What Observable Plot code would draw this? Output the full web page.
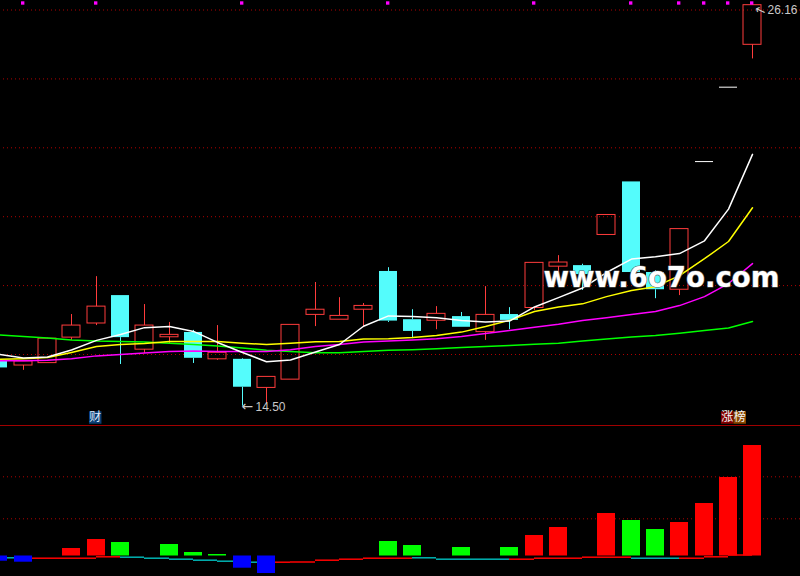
<!DOCTYPE html>
<html><head><meta charset="utf-8">
<script src="https://cdn.jsdelivr.net/npm/d3@7"></script>
<script src="https://cdn.jsdelivr.net/npm/@observablehq/plot@0.6"></script>
<style>
body{margin:0;background:#000;}
#sep{height:1px;background:#a00000;}
svg{display:block;}
</style>
</head><body>
<div id="top"></div><div id="sep"></div><div id="bot"></div>
<script>
// ---- price data (candles, index 0..31) ----
const open  = [15.80,15.68,15.75,16.49,16.90,17.71,16.14,16.50,16.64,15.86,15.86,15.03,15.27,17.15,17.01,17.30,18.41,17.01,16.98,17.10,16.65,17.16,17.35,18.55,18.58,19.47,21.01,18.38,17.88,21.60,23.76,24.99];
const high  = [15.83,15.80,16.47,17.16,18.26,17.71,17.45,16.93,16.70,16.84,15.88,15.35,16.86,18.09,17.65,17.48,18.52,17.30,17.39,17.22,17.97,17.36,18.66,18.87,18.62,20.05,21.01,18.43,19.64,21.60,23.76,26.16];
const low   = [15.59,15.54,15.75,16.41,16.84,15.71,16.03,16.32,15.74,15.83,14.50,14.58,15.27,16.81,17.01,16.78,16.93,16.46,16.72,16.79,16.41,16.72,17.28,18.00,17.86,19.47,18.17,17.62,17.71,21.60,23.76,24.58];
const close = [15.61,15.80,16.46,16.84,17.39,16.49,16.84,16.57,15.89,16.05,15.05,15.35,16.86,17.30,17.12,17.41,16.97,16.67,17.18,16.79,17.15,16.99,18.66,18.67,18.32,20.05,18.38,17.88,19.64,21.60,23.76,26.14];

// ---- moving averages ----
const ma5  = [16.00,15.90,15.93,16.13,16.41,16.58,16.78,16.81,16.67,16.35,16.06,15.79,15.84,16.07,16.29,16.82,17.12,17.10,17.07,16.99,16.94,16.97,17.38,17.65,17.93,18.38,18.77,18.84,18.93,19.30,20.22,21.81];
const ma10 = [15.86,15.88,15.91,16.06,16.23,16.29,16.32,16.38,16.38,16.38,16.33,16.29,16.33,16.37,16.38,16.45,16.46,16.49,16.55,16.65,16.81,16.99,17.25,17.38,17.47,17.68,17.86,17.97,18.29,18.78,19.28,20.26];
const ma20 = [15.82,15.82,15.83,15.88,15.96,16.00,16.04,16.09,16.10,16.09,16.09,16.09,16.14,16.23,16.29,16.36,16.39,16.42,16.46,16.52,16.61,16.70,16.79,16.88,16.99,17.07,17.16,17.25,17.42,17.68,18.06,18.64];
const ma60 = [16.57,16.52,16.48,16.42,16.39,16.38,16.36,16.33,16.29,16.25,16.19,16.12,16.09,16.05,16.05,16.09,16.12,16.14,16.17,16.20,16.23,16.26,16.30,16.33,16.39,16.45,16.51,16.55,16.62,16.70,16.77,16.96];

// ---- lower indicator ----
const barValue = [-5.2,-6.2,0,7.5,16.5,13.5,0,11.5,3.5,1.5,-12.2,-17.5,0,0,0,0,14.5,10.5,0,8.5,0,8.5,20.5,28.5,0,42.5,35.5,26.5,33.5,52.5,78.5,110.5];
const barKind  = ["neg","neg","none","up","up","down","none","down","down","down","neg","neg","none","none","none","none","down","down","none","down","none","down","up","up","none","up","down","down","up","up","up","up"];
const lineValue = [-1.8,-2.2,-2.2,-2.2,-0.8,-1.2,-2.2,-3.2,-4.2,-5.2,-6.2,-6.2,-6.0,-4.2,-3.2,-2.2,-2.2,-1.8,-3.2,-3.2,-3.2,-3.2,-2.2,-2.2,-1.2,-1.2,-2.2,-2.2,-2.2,-0.8,1.0,3.5];
const lineDir   = ["fall","rise","rise","rise","rise","fall","fall","fall","fall","fall","fall","rise","rise","rise","rise","rise","rise","fall","fall","fall","fall","rise","rise","rise","rise","rise","fall","fall","rise","rise","rise","rise"];

// ---- ticks, markers, events ----
const gridTop = [16,18,20,22,24,26];
const gridBottom = [37.2,79.2];
const markerIdx = [1,4,10,16,22,26,28,29,30,31];
const eventIdx = [4,30];
const eventText = ["财","涨榜"];
const eventKinds = [["fin"],["lhb1","lhb2"]];
const watermark = "www.6o7o.com";

const RED = "#ff3c3c", CYAN = "#54fcfc";
const hw = 0.37;
const candles = open.map((o,i)=>({i, open:o, high:high[i], low:low[i], close:close[i],
  kind: close[i] > o ? "up" : close[i] < o ? "down" : "flat"}));
const body = candles.filter(d=>d.kind!=="flat");
const mkLine = arr => arr.map((v,i)=>({i, v}));
const evColor = {fin:"#0b3d73", lhb1:"#840000", lhb2:"#8a4800"};
const evText = {fin:"#dce8fa", lhb1:"#f4f4f4", lhb2:"#f4f4f4"};
const eventMarks = [];
eventIdx.forEach((idx,k)=>{
  Array.from(eventText[k]).forEach((ch,j)=>{
    const kind = eventKinds[k][j];
    const dx = -1.3 + j*12.5;
    eventMarks.push(Plot.dot([{i:idx}], {x:"i", frameAnchor:"bottom", dy:-8, dx, symbol:"square", r:7.05, fill:evColor[kind]}));
    eventMarks.push(Plot.text([{i:idx, ch}], {x:"i", frameAnchor:"bottom", lineAnchor:"middle", dy:-8.5, dx, text:"ch", fill:evText[kind], fontSize:12, fontFamily:"Noto Sans CJK SC"}));
  });
});
const xOpt = () => ({domain:[0,31], range:[-1.5,752.4], round:true, axis:null});
const dotted = {stroke:"#b00000", strokeDasharray:"1,3", strokeDashoffset:1};
const GRAY = "#c8c8c8";

const topPlot = Plot.plot({
  width:800, height:425, margin:0,
  style:{background:"#000", fontFamily:"Liberation Sans"},
  x: xOpt(),
  y: {domain:[13.939,26.276], range:[425,0], axis:null},
  color: {domain:["up","down","flat"], range:[RED, CYAN, "#ffffff"]},
  marks: [
    Plot.ruleY(gridTop, dotted),
    Plot.ruleX(body, {x:"i", y1:"high", y2:d=>Math.max(d.open,d.close), stroke:"kind"}),
    Plot.ruleX(body, {x:"i", y1:d=>Math.min(d.open,d.close), y2:"low", stroke:"kind"}),
    Plot.rect(candles.filter(d=>d.kind==="down"), {x1:d=>d.i-hw, x2:d=>d.i+hw, y1:"open", y2:"close", fill:"kind"}),
    Plot.rect(candles.filter(d=>d.kind==="up"), {x1:d=>d.i-hw, x2:d=>d.i+hw, y1:"open", y2:"close", fill:"none", stroke:"kind"}),
    Plot.ruleY(candles.filter(d=>d.kind==="flat"), {x1:d=>d.i-hw, x2:d=>d.i+hw, y:"close", stroke:"kind"}),
    Plot.line(mkLine(ma60), {x:"i", y:"v", stroke:"#00ff00"}),
    Plot.line(mkLine(ma20), {x:"i", y:"v", stroke:"#ff00ff"}),
    Plot.line(mkLine(ma10), {x:"i", y:"v", stroke:"#ffff00"}),
    Plot.line(mkLine(ma5),  {x:"i", y:"v", stroke:"#ffffff"}),
    Plot.dot(markerIdx, {x:d=>d, frameAnchor:"top", dy:2.5, dx:-0.8, symbol:"square", r:1.9, fill:"#ff00ff"}),
    Plot.text([candles[10]], {x:"i", y:"low", text:()=>"←", textAnchor:"start", dx:-1, dy:0, fill:GRAY, fontSize:14, fontFamily:"DejaVu Sans"}),
    Plot.text([candles[10]], {x:"i", y:"low", text:d=>d.low.toFixed(2), textAnchor:"start", dx:13, dy:1, fill:GRAY, fontSize:12}),
    Plot.text([candles[31]], {x:"i", y:"high", text:()=>"←", rotate:25, dx:8, dy:6, fill:GRAY, fontSize:13, fontFamily:"DejaVu Sans"}),
    Plot.text([candles[31]], {x:"i", y:"high", text:d=>d.high.toFixed(2), textAnchor:"start", dx:15, dy:6, fill:GRAY, fontSize:12}),
    ...eventMarks,
    Plot.text([watermark], {frameAnchor:"top-left", dx:543, dy:267, textAnchor:"start", text:d=>d, fontSize:27.6, fontWeight:"bold", fontFamily:"DejaVu Sans", fill:"#ffffff", stroke:"#606060", strokeWidth:1.2})
  ]
});
document.getElementById("top").append(topPlot);

const bars = barValue.map((v,i)=>({i, v, kind:barKind[i]})).filter(d=>d.kind!=="none");
const segs = lineValue.map((v,i)=>({i, v, dir:lineDir[i]})).filter(d=>d.i<31);
const botPlot = Plot.plot({
  width:800, height:150, margin:0,
  style:{background:"#000"},
  x: xOpt(),
  y: {domain:[-20.5,129.5], range:[150,0], axis:null},
  color: {domain:["up","down","neg","rise","fall"], range:["#ff0000","#00ff00","#0000ff","#ff0000","#00b4b4"]},
  marks: [
    Plot.ruleY(gridBottom, dotted),
    Plot.ruleY(segs, {x1:"i", x2:d=>d.i+1, y:"v", stroke:"dir", strokeWidth:1.5}),
    Plot.rect(bars, {x1:d=>d.i-hw, x2:d=>d.i+hw, y1:0, y2:"v", fill:"kind"})
  ]
});
document.getElementById("bot").append(botPlot);
</script>
</body></html>
